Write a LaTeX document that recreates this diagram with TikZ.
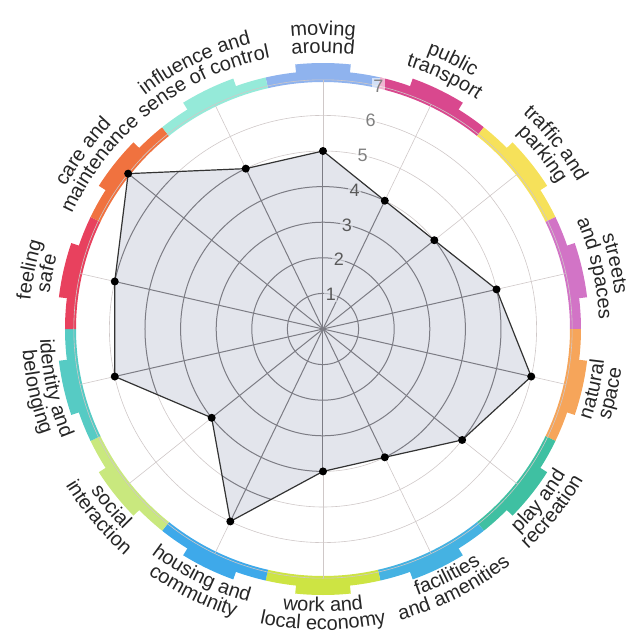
\documentclass[tikz,border=0pt]{standalone}
\usepackage{fontspec}
\setmainfont{Liberation Sans}
\usetikzlibrary{decorations.text}

\definecolor{cmove}{HTML}{8FB3EE}
\definecolor{ctrans}{HTML}{D9488E}
\definecolor{ctraffic}{HTML}{F6E15A}
\definecolor{cstreet}{HTML}{D274C6}
\definecolor{cnature}{HTML}{F6A55A}
\definecolor{cplay}{HTML}{3FC0A2}
\definecolor{cfacil}{HTML}{45B2E2}
\definecolor{cwork}{HTML}{CDE443}
\definecolor{chousing}{HTML}{3EA9EA}
\definecolor{csocial}{HTML}{C9E87E}
\definecolor{cident}{HTML}{56CBC4}
\definecolor{csafe}{HTML}{E8415E}
\definecolor{ccare}{HTML}{F0723F}
\definecolor{cinfl}{HTML}{95EAD9}
\definecolor{polyfill}{HTML}{E3E5EC}
\definecolor{gridlight}{HTML}{CFC8C8}
\definecolor{griddark}{HTML}{7C7C84}

\begin{document}
\begin{tikzpicture}
[x=1pt,y=1pt,
 topic/.style={decorate,decoration={text along path,text align=center,
   text={|\fontsize{20}{20}\selectfont\color{black!85}|#1}}},
 tick/.style={font=\fontsize{18}{18}\selectfont,inner sep=1.5pt,fill=white,fill opacity=.6,text opacity=1},
 dot/.style={circle,fill=black,inner sep=0pt,minimum size=8pt}]
\def\u{35.6}
\useasboundingbox (-323,-312) rectangle (309,329);
% coloured ring
\foreach \k/\c in {0/cmove,1/ctrans,2/ctraffic,3/cstreet,4/cnature,5/cplay,6/cfacil,
                   7/cwork,8/chousing,9/csocial,10/cident,11/csafe,12/ccare,13/cinfl}
{
\pgfmathsetmacro\a{90-\k*360/14}
\fill[\c] ({\a-12.857}:247) -- ({\a-12.857}:258) arc[start angle=\a-12.857,end angle=\a+12.857,radius=258]
  -- ({\a+12.857}:247) arc[start angle=\a+12.857,end angle=\a-12.857,radius=247] -- cycle;
\fill[\c] ({\a-6}:250) -- ({\a-6}:266) arc[start angle=\a-6,end angle=\a+6,radius=266]
  -- ({\a+6}:250) arc[start angle=\a+6,end angle=\a-6,radius=250] -- cycle;
}
% grid
\foreach \r in {1,...,7}
\draw[gridlight,line width=.6pt] (0,0) circle[radius=\r*\u];
\foreach \k in {0,...,13}
\draw[gridlight,line width=.6pt] (0,0) -- ({90-\k*360/14}:7*\u);
% scores
\foreach \k/\v in {0/5,1/4,2/4,3/5,4/6,5/5,6/4,7/4,8/6,9/4,10/6,11/6,12/7,13/5}
\coordinate (p\k) at ({90-\k*360/14}:\v*\u);
\fill[polyfill] (p0) -- (p1) -- (p2) -- (p3) -- (p4) -- (p5) -- (p6) -- (p7)
  -- (p8) -- (p9) -- (p10) -- (p11) -- (p12) -- (p13) -- cycle;
\begin{scope}
\clip (p0) -- (p1) -- (p2) -- (p3) -- (p4) -- (p5) -- (p6) -- (p7)
  -- (p8) -- (p9) -- (p10) -- (p11) -- (p12) -- (p13) -- cycle;
\foreach \r in {1,...,7}
\draw[griddark,line width=1pt] (0,0) circle[radius=\r*\u];
\foreach \k in {0,...,13}
\draw[griddark,line width=1pt] (0,0) -- ({90-\k*360/14}:7*\u);
\end{scope}
\draw[black!80,line width=1.2pt,line join=round] (p0) -- (p1) -- (p2) -- (p3) -- (p4) -- (p5) -- (p6)
  -- (p7) -- (p8) -- (p9) -- (p10) -- (p11) -- (p12) -- (p13) -- cycle;
\foreach \k in {0,...,13}
\node[dot] (d\k) at (p\k) {};
% scale
\foreach \r in {1,...,4}
\node[tick,fill=polyfill,text=black!65] (s\r) at (77.14:\r*\u) {\r};
\foreach \r in {5,...,7}
\node[tick,text=black!50] (s\r) at (77.14:\r*\u) {\r};
% topics, upper half (read clockwise)
\foreach \a/\ta/\tb in {168.6/feeling/safe,143.5/care and/maintenance,115.7/influence and/sense of control,
  90/moving/around,64.3/public/transport,38.6/traffic and/parking,12.6/streets/and spaces}
{
\path[topic=\ta] ({\a+45}:294) arc[start angle=\a+45,end angle=\a-45,radius=294];
\path[topic=\tb] ({\a+45}:276) arc[start angle=\a+45,end angle=\a-45,radius=276];
}
% topics, lower half (read anticlockwise)
\foreach \a/\ta/\tb in {-12.6/natural/space,-38.6/play and/recreation,-63.3/facilities/and amenities,
  -90/work and/local economy,-116.3/housing and/community,-140/social/interaction,-167.6/identity and/belonging}
{
\path[topic=\ta] ({\a-45}:283) arc[start angle=\a-45,end angle=\a+45,radius=283];
\path[topic=\tb] ({\a-45}:301) arc[start angle=\a-45,end angle=\a+45,radius=301];
}
\end{tikzpicture}
\end{document}
